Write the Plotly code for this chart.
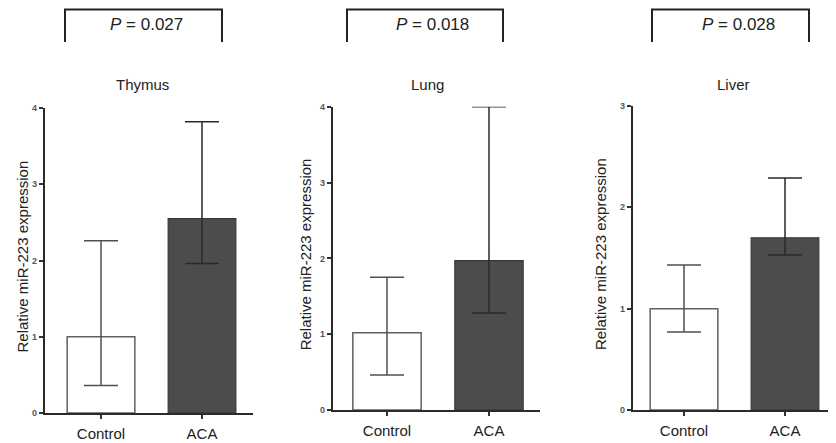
import plotly.graph_objects as go

# ---- data ----
organs = ["Thymus", "Lung", "Liver"]
groups = ["Control", "ACA"]
control_mean = [1.00, 1.02, 1.00]
control_upper = [2.26, 1.75, 1.43]
control_lower = [0.36, 0.46, 0.77]
aca_mean = [2.55, 1.97, 1.70]
aca_upper = [3.82, 4.00, 2.29]
aca_lower = [1.96, 1.28, 1.53]
p_values = ["0.027", "0.018", "0.028"]
y_max = [4, 4, 3]

W, H = 836, 443
OFF = 8  # page body margin: figure origin sits at (8, 8) in the window

def px(x):
    return (x - OFF) / W

def py(y):
    return 1 - (y - OFF) / H

# layout geometry in window pixels (left, right, bottom, top of the axes)
panels_px = [
    dict(x0=45, x1=253, yb=413, yt=108, c0=101, c1=202, ytitle=22, title_x=142,
         br0=65, br1=222, ptx=146),
    dict(x0=333, x1=540, yb=410, yt=106.7, c0=387, c1=489, ytitle=305, title_x=427,
         br0=347, br1=503, ptx=432),
    dict(x0=633, x1=844, yb=410, yt=106, c0=684, c1=785, ytitle=601, title_x=733,
         br0=652, br1=809, ptx=738),
]

fig = go.Figure()
FONT = "Liberation Sans, Arial, sans-serif"

for i, organ in enumerate(organs):
    sfx = "" if i == 0 else str(i + 1)
    xa, ya = "x" + sfx, "y" + sfx
    fig.add_trace(go.Bar(
        x=[groups[0]], y=[control_mean[i]], xaxis=xa, yaxis=ya, width=0.67,
        marker=dict(color="white", line=dict(color="#606060", width=1.5)),
        error_y=dict(type="data", symmetric=False,
                     array=[control_upper[i] - control_mean[i]],
                     arrayminus=[control_mean[i] - control_lower[i]],
                     color="#505050", thickness=1.5, width=17),
        showlegend=False, hoverinfo="skip"))
    fig.add_trace(go.Bar(
        x=[groups[1]], y=[aca_mean[i]], xaxis=xa, yaxis=ya, width=0.67,
        marker=dict(color="#4b4c4e", line=dict(color="#383838", width=1.2)),
        error_y=dict(type="data", symmetric=False,
                     array=[aca_upper[i] - aca_mean[i]],
                     arrayminus=[aca_mean[i] - aca_lower[i]],
                     color="#2a2a2a", thickness=1.5, width=17),
        showlegend=False, hoverinfo="skip"))

layout = dict(
    template="none",
    width=W, height=H, margin=dict(l=0, r=0, t=0, b=0, pad=0, autoexpand=False),
    paper_bgcolor="white", plot_bgcolor="white", barmode="overlay",
    font=dict(family=FONT, color="#222"),
    annotations=[], shapes=[],
)

BR_TOP = 9.5  # as close to the top edge as the page allows

for i, p in enumerate(panels_px):
    sfx = "" if i == 0 else str(i + 1)
    sp = p["c1"] - p["c0"]
    xr = [(p["x0"] - p["c0"]) / sp, (p["x1"] - p["c0"]) / sp]
    layout["xaxis" + sfx] = dict(
        domain=[px(p["x0"]), min(1.0, px(p["x1"]))], anchor="y" + sfx,
        type="category", categoryorder="array", categoryarray=groups,
        range=xr, showline=True, linecolor="#2b2b2b", linewidth=2.2,
        ticks="outside", ticklen=4, tickwidth=1.5, tickcolor="#333",
        ticklabelstandoff=2, automargin=False,
        tickfont=dict(size=15, color="#222", family=FONT),
        showgrid=False, zeroline=False, fixedrange=True)
    layout["yaxis" + sfx] = dict(
        domain=[py(p["yb"]), py(p["yt"])], anchor="x" + sfx,
        range=[0, y_max[i]], dtick=1, tick0=0, showline=True,
        linecolor="#2b2b2b", linewidth=2.2, ticks="outside", ticklen=4,
        tickwidth=1.5, tickcolor="#333", automargin=False,
        tickfont=dict(size=9, color="#555", family=FONT, weight="bold"),
        showgrid=False, zeroline=False, fixedrange=True)
    # y-axis title
    layout["annotations"].append(dict(
        text="Relative miR-223 expression", xref="paper", yref="paper",
        x=px(p["ytitle"]), y=py((p["yb"] + p["yt"]) / 2 - 4),
        textangle=-90, showarrow=False, xanchor="center", yanchor="middle",
        font=dict(size=15, color="#222", family=FONT)))
    # organ title
    layout["annotations"].append(dict(
        text=organs[i], xref="paper", yref="paper",
        x=px(p["title_x"]), y=py(85), showarrow=False,
        xanchor="center", yanchor="middle",
        font=dict(size=15, color="#222", family=FONT)))
    # P value
    layout["annotations"].append(dict(
        text="<i>P</i> = " + p_values[i], xref="paper", yref="paper",
        x=px(p["ptx"]), y=py(24), showarrow=False,
        xanchor="center", yanchor="middle",
        font=dict(size=17, color="#222", family=FONT)))
    # bracket
    layout["shapes"].append(dict(
        type="path", xref="paper", yref="paper",
        path=f"M {px(p['br0'])},{py(42)} L {px(p['br0'])},{py(BR_TOP)} "
             f"L {px(p['br1'])},{py(BR_TOP)} L {px(p['br1'])},{py(42)}",
        line=dict(color="#222", width=2)))

fig.update_layout(**layout)
fig.write_html("out.html")
